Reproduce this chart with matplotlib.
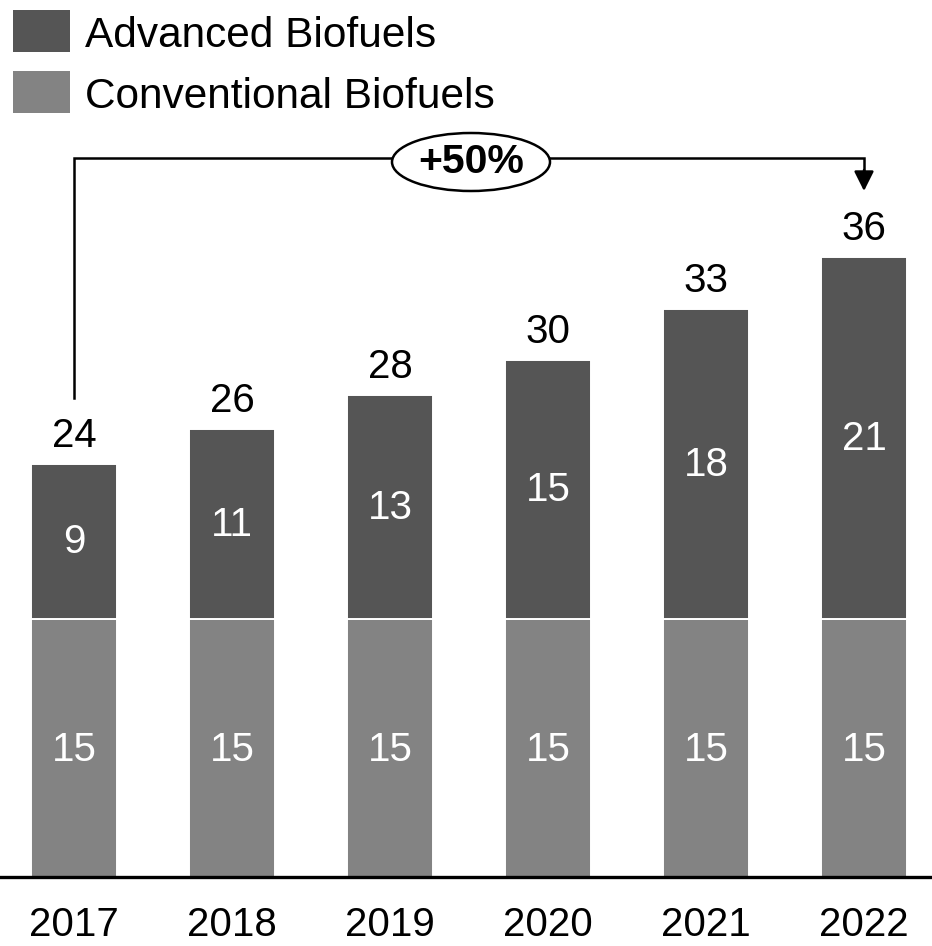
import numpy as np
import matplotlib
matplotlib.use('Agg')
import matplotlib.pyplot as plt
from matplotlib.patches import Ellipse, Rectangle

plt.rcParams['font.family'] = ['Liberation Sans', 'DejaVu Sans']

years = ['2017', '2018', '2019', '2020', '2021', '2022']
conventional = [15, 15, 15, 15, 15, 15]
advanced = [9, 11, 13, 15, 18, 21]
totals = [24, 26, 28, 30, 33, 36]
series_names = ['Advanced Biofuels', 'Conventional Biofuels']
growth_label = '+50%'

col_adv = '#555555'
col_conv = '#838383'

W, H = 932, 946
fig = plt.figure(figsize=(W / 100, H / 100), dpi=100)
ax = fig.add_axes([0, 0, 1, 1])

# pixel layout: bar pitch 158 px, first centre at 74 px, baseline at 877 px, 17.22 px per unit
px_x = 158.0
px_y = 17.22
x0 = -74 / px_x
y0 = -(H - 877) / px_y
ax.set_xlim(x0, x0 + W / px_x)
ax.set_ylim(y0, y0 + H / px_y)
ax.axis('off')

x = np.arange(len(years))
bw = 86 / px_x
ax.bar(x, conventional, bw, color=col_conv, edgecolor='white', linewidth=1.4)
ax.bar(x, advanced, bw, bottom=conventional, color=col_adv, edgecolor='white', linewidth=1.4)

ax.axhline(0, color='black', lw=2.4)

fs = 29
for i in range(len(years)):
    ax.text(x[i], conventional[i] / 2 - 0.1, str(conventional[i]), ha='center', va='center',
            color='white', fontsize=fs)
    ax.text(x[i], conventional[i] + advanced[i] / 2 - 0.05, str(advanced[i]), ha='center',
            va='center', color='white', fontsize=fs)
    ax.text(x[i], totals[i] + 1.0, str(totals[i]), ha='center', va='baseline',
            color='black', fontsize=fs)
    ax.text(x[i], -3.45, years[i], ha='center', va='baseline', color='black', fontsize=fs)

# growth bracket
yb = (877 - 158) / px_y
ax.plot([x[0], x[0], x[-1], x[-1]], [(877 - 398) / px_y, yb, yb, (877 - 174) / px_y],
        color='black', lw=1.8, solid_joinstyle='miter', zorder=3)
ax.annotate('', xy=(x[-1], (877 - 191) / px_y), xytext=(x[-1], (877 - 170) / px_y),
            arrowprops=dict(arrowstyle='-|>', color='black', lw=1.8, mutation_scale=30,
                            shrinkA=0, shrinkB=0))
ex = (471 - 74) / px_x
ey = (877 - 162) / px_y
ax.add_patch(Ellipse((ex, ey), 158 / px_x, 58 / px_y, facecolor='white', edgecolor='black',
                     lw=1.8, zorder=4))
ax.text(ex, ey, growth_label, ha='center', va='center', fontsize=29.5, fontweight='bold',
        zorder=5)

# legend drawn by hand at the top left
for k, (name, c) in enumerate(zip(series_names, [col_adv, col_conv])):
    top = [10, 71][k]
    fig.patches.append(Rectangle((13 / W, 1 - (top + 42) / H), 57 / W, 42 / H,
                                 transform=fig.transFigure, facecolor=c, edgecolor='none'))
    fig.text(85 / W, 1 - (top + 26) / H, name, ha='left', va='center', fontsize=30.5)

fig.savefig('out.png', dpi=100)
